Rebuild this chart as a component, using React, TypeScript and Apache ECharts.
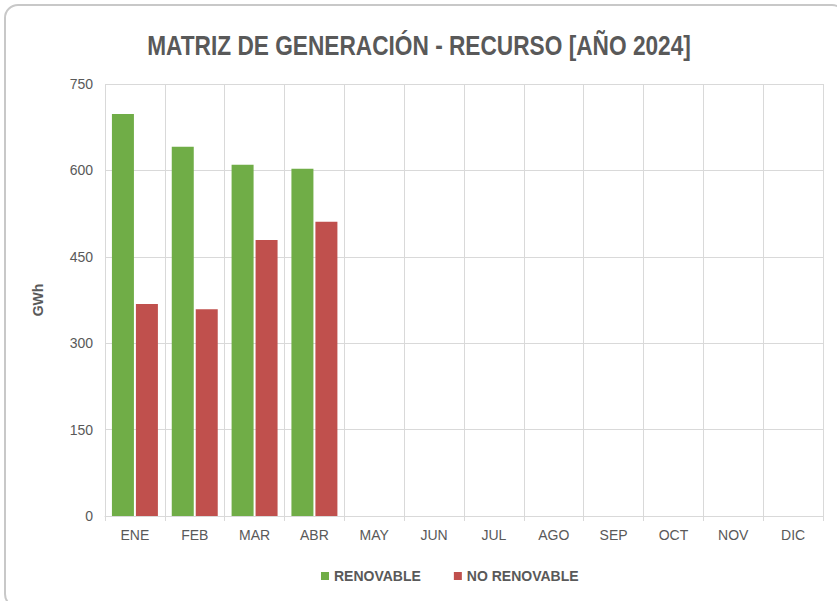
import React, { useEffect, useRef } from "react";
import * as echarts from "echarts";

const months = ["ENE", "FEB", "MAR", "ABR", "MAY", "JUN", "JUL", "AGO", "SEP", "OCT", "NOV", "DIC"];
const renovable = [698, 641, 610, 603, null, null, null, null, null, null, null, null];
const noRenovable = [368, 359, 479, 511, null, null, null, null, null, null, null, null];
const yTicks = { min: 0, max: 750, interval: 150 };
const titleText = "MATRIZ DE GENERACIÓN - RECURSO [AÑO 2024]";

const FONT = "'Liberation Sans', Arial, sans-serif";

export default function App() {
  const ref = useRef<HTMLDivElement>(null);
  useEffect(() => {
    const chart = echarts.init(ref.current!, null, { renderer: "svg" });
    chart.setOption({
      animation: false,
      backgroundColor: "transparent",
      graphic: [
        {
          type: "text",
          x: 419,
          y: 31,
          scaleX: 0.81,
          style: {
            text: titleText,
            align: "center",
            verticalAlign: "top",
            fontFamily: FONT,
            fontSize: 28,
            fontWeight: "bold",
            fill: "#595959",
          },
        },
      ],
      legend: {
        bottom: 13,
        left: 316,
        itemWidth: 8,
        itemHeight: 8,
        itemGap: 33,
        icon: "rect",
        textStyle: { fontFamily: FONT, fontSize: 14, fontWeight: "bold", color: "#595959" },
      },
      grid: { left: 105, right: 14, top: 84, bottom: 85 },
      xAxis: {
        type: "category",
        data: months,
        axisLine: { lineStyle: { color: "#d9d9d9" } },
        axisTick: { show: true, length: 5, lineStyle: { color: "#d9d9d9" } },
        axisLabel: { fontFamily: FONT, fontSize: 14, color: "#595959", margin: 12 },
        splitLine: { show: true, lineStyle: { color: "#d9d9d9" } },
      },
      yAxis: {
        type: "value",
        min: yTicks.min,
        max: yTicks.max,
        interval: yTicks.interval,
        name: "GWh",
        nameLocation: "middle",
        nameGap: 60,
        nameTextStyle: { fontFamily: FONT, fontSize: 14, fontWeight: "bold", color: "#595959" },
        axisLine: { show: false },
        axisTick: { show: false },
        axisLabel: { fontFamily: FONT, fontSize: 14, color: "#595959", margin: 12 },
        splitLine: { lineStyle: { color: "#d9d9d9" } },
      },
      series: [
        {
          name: "RENOVABLE",
          type: "bar",
          data: renovable,
          barWidth: 22,
          barGap: "9%",
          itemStyle: { color: "#70AD47" },
        },
        {
          name: "NO RENOVABLE",
          type: "bar",
          data: noRenovable,
          barWidth: 22,
          itemStyle: { color: "#C0504D" },
        },
      ],
    });
    return () => chart.dispose();
  }, []);
  return (
    <div
      style={{
        position: "fixed",
        left: 0,
        top: 0,
        width: 837,
        height: 601,
        background: "#ffffff",
        overflow: "hidden",
      }}
    >
      <div
        style={{
          position: "absolute",
          left: 4,
          top: 4,
          width: 842,
          height: 604,
          border: "2px solid #c8c8c8",
          borderRadius: 14,
          boxSizing: "border-box",
        }}
      />
      <div ref={ref} style={{ position: "absolute", left: 0, top: 0, width: 837, height: 601 }} />
    </div>
  );
}
